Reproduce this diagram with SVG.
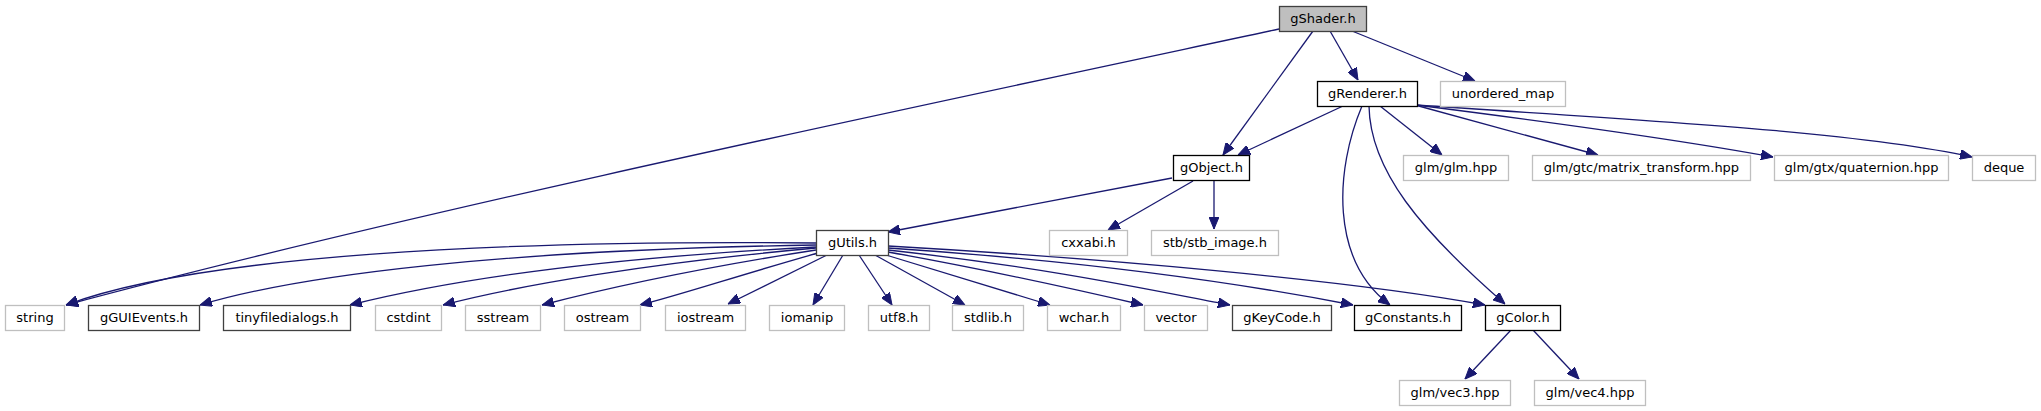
<svg xmlns="http://www.w3.org/2000/svg" width="2041" height="411" viewBox="0 0 2041 411">
<style>
text{font-family:"DejaVu Sans","Liberation Sans",sans-serif;font-size:13px;text-anchor:middle;fill:#000}
rect{stroke-width:1.3}
.ext rect{fill:#fff;stroke:#bfbfbf}
.doc rect{fill:#fff;stroke:#000}
.doc2 rect{fill:#fff;stroke:#404040}
.root rect{fill:#bfbfbf;stroke:#404040}
#edges path{fill:none;stroke:#191970;stroke-width:1.3;marker-end:url(#ah)}
</style>
<defs>
<marker id="ah" markerUnits="userSpaceOnUse" viewBox="0 0 12 10" refX="12" refY="5" markerWidth="12" markerHeight="10" orient="auto">
<path d="M0,0 L12,5 L0,10 z" fill="#191970" stroke="#191970"/>
</marker>
</defs>
<rect width="2041" height="411" fill="#fff"/>
<g id="edges">
<path d="M1279,29 C900,110 400,215 66,305"/>
<path d="M1313,31 L1223,155"/>
<path d="M1330,31 L1358,80"/>
<path d="M1352,31 L1475,81"/>
<path d="M1343,106 L1238,155"/>
<path d="M1380,106 L1442,155"/>
<path d="M1415,105 L1598,155"/>
<path d="M1416,105 C1550,122 1680,140 1773,157"/>
<path d="M1417,105 C1600,118 1850,130 1972,157"/>
<path d="M1362,106 C1335,170 1330,260 1390,305"/>
<path d="M1369,106 C1370,170 1420,230 1505,304"/>
<path d="M1172,178 L888,232"/>
<path d="M1193,181 L1108,230"/>
<path d="M1214,181 L1214,229"/>
<path d="M1511,330 L1465,379"/>
<path d="M1533,330 L1579,379"/>
<path d="M816,243 C500,240 200,255 66,305"/>
<path d="M816,245 C500,250 300,275 200,305"/>
<path d="M816,247 C600,258 450,280 350,305"/>
<path d="M816,248 C650,263 520,285 443,305"/>
<path d="M816,250 C700,268 600,290 542,305"/>
<path d="M818,253 C740,275 680,295 640,305"/>
<path d="M827,255 L728,304"/>
<path d="M843,255 L813,305"/>
<path d="M859,255 L892,305"/>
<path d="M875,255 L965,305"/>
<path d="M886,255 L1050,305"/>
<path d="M888,252 C1000,272 1100,295 1143,305"/>
<path d="M888,250 C1050,268 1150,290 1230,305"/>
<path d="M888,248 C1100,262 1250,285 1353,305"/>
<path d="M888,246 C1100,258 1350,280 1485,305"/>
</g>
<g id="n_gShader" class="root"><rect x="1279.5" y="6.5" width="87" height="25"/><text x="1323" y="23">gShader.h</text></g>
<g id="n_gRenderer" class="doc"><rect x="1317.5" y="81.5" width="100" height="25"/><text x="1367.5" y="98">gRenderer.h</text></g>
<g id="n_unordered_map" class="ext"><rect x="1440.5" y="81.5" width="125" height="25"/><text x="1503" y="98">unordered_map</text></g>
<g id="n_gObject" class="doc"><rect x="1173.5" y="155.5" width="76" height="25"/><text x="1211.5" y="172">gObject.h</text></g>
<g id="n_glm" class="ext"><rect x="1403.5" y="155.5" width="105" height="25"/><text x="1456" y="172">glm/glm.hpp</text></g>
<g id="n_matrix" class="ext"><rect x="1532.5" y="155.5" width="218" height="25"/><text x="1641.5" y="172">glm/gtc/matrix_transform.hpp</text></g>
<g id="n_quat" class="ext"><rect x="1774.5" y="155.5" width="174" height="25"/><text x="1861.5" y="172">glm/gtx/quaternion.hpp</text></g>
<g id="n_deque" class="ext"><rect x="1972.5" y="155.5" width="63" height="25"/><text x="2004" y="172">deque</text></g>
<g id="n_gUtils" class="doc2"><rect x="816.5" y="230.5" width="72" height="25"/><text x="852.5" y="247">gUtils.h</text></g>
<g id="n_cxxabi" class="ext"><rect x="1049.5" y="230.5" width="78" height="25"/><text x="1088.5" y="247">cxxabi.h</text></g>
<g id="n_stb" class="ext"><rect x="1151.5" y="230.5" width="127" height="25"/><text x="1215" y="247">stb/stb_image.h</text></g>
<g id="n_string" class="ext"><rect x="5.5" y="305.5" width="59" height="25"/><text x="35" y="322">string</text></g>
<g id="n_gGUIEvents" class="doc2"><rect x="88.5" y="305.5" width="111" height="25"/><text x="144" y="322">gGUIEvents.h</text></g>
<g id="n_tinyfd" class="doc2"><rect x="223.5" y="305.5" width="127" height="25"/><text x="287" y="322">tinyfiledialogs.h</text></g>
<g id="n_cstdint" class="ext"><rect x="375.5" y="305.5" width="66" height="25"/><text x="408.5" y="322">cstdint</text></g>
<g id="n_sstream" class="ext"><rect x="465.5" y="305.5" width="75" height="25"/><text x="503" y="322">sstream</text></g>
<g id="n_ostream" class="ext"><rect x="564.5" y="305.5" width="76" height="25"/><text x="602.5" y="322">ostream</text></g>
<g id="n_iostream" class="ext"><rect x="665.5" y="305.5" width="80" height="25"/><text x="705.5" y="322">iostream</text></g>
<g id="n_iomanip" class="ext"><rect x="769.5" y="305.5" width="75" height="25"/><text x="807" y="322">iomanip</text></g>
<g id="n_utf8" class="ext"><rect x="868.5" y="305.5" width="61" height="25"/><text x="899" y="322">utf8.h</text></g>
<g id="n_stdlib" class="ext"><rect x="952.5" y="305.5" width="71" height="25"/><text x="988" y="322">stdlib.h</text></g>
<g id="n_wchar" class="ext"><rect x="1047.5" y="305.5" width="73" height="25"/><text x="1084" y="322">wchar.h</text></g>
<g id="n_vector" class="ext"><rect x="1144.5" y="305.5" width="63" height="25"/><text x="1176" y="322">vector</text></g>
<g id="n_gKeyCode" class="doc2"><rect x="1232.5" y="305.5" width="99" height="25"/><text x="1282" y="322">gKeyCode.h</text></g>
<g id="n_gConstants" class="doc"><rect x="1354.5" y="305.5" width="107" height="25"/><text x="1408" y="322">gConstants.h</text></g>
<g id="n_gColor" class="doc"><rect x="1485.5" y="305.5" width="75" height="25"/><text x="1523" y="322">gColor.h</text></g>
<g id="n_vec3" class="ext"><rect x="1399.5" y="380.5" width="111" height="25"/><text x="1455" y="397">glm/vec3.hpp</text></g>
<g id="n_vec4" class="ext"><rect x="1534.5" y="380.5" width="111" height="25"/><text x="1590" y="397">glm/vec4.hpp</text></g>
</svg>
